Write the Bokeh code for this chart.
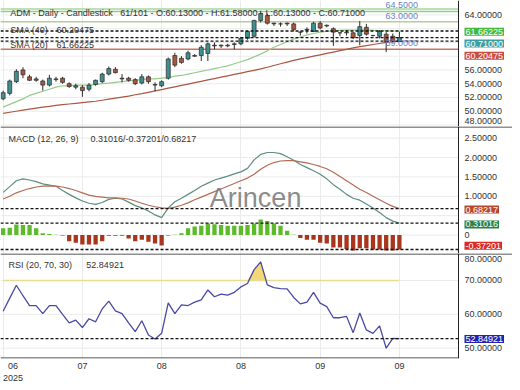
import numpy as np
from bokeh.plotting import figure
from bokeh.layouts import column
from bokeh.models import Range1d, FixedTicker, Span, Label, ColumnDataSource
from bokeh.core.properties import value
from bokeh.embed import file_html
from bokeh.resources import INLINE

# ---------------- data ----------------
opens = [51.8, 52.6, 54.3, 56.0, 55.0, 54.7, 54.4, 53.8, 54.6, 54.8,
         54.0, 53.5, 53.5, 53.2, 53.9, 54.3, 55.4, 56.1, 54.8, 54.8,
         54.6, 54.1, 55.0, 53.9, 53.7, 54.8, 58.1, 57.7, 57.6, 58.1,
         58.1, 58.4, 59.6, 59.6, 59.5, 59.7, 59.8, 60.6, 60.9, 63.2,
         63.9, 62.8, 62.7, 62.8, 62.7, 61.5, 61.8, 61.6, 62.8, 62.5,
         62.0, 61.4, 61.4, 61.4, 61.0, 62.2, 61.0, 60.9, 61.2, 60.9,
         60.13]
highs = [53.0, 54.6, 56.1, 56.4, 55.3, 55.0, 54.6, 55.3, 55.0, 55.0,
         54.2, 54.0, 53.8, 54.1, 54.6, 55.6, 56.5, 56.4, 55.4, 55.0,
         54.8, 55.4, 55.2, 54.2, 54.5, 57.8, 58.5, 58.0, 58.8, 58.3,
         59.6, 60.0, 60.0, 59.7, 59.8, 60.0, 60.8, 61.7, 63.3, 64.6,
         64.2, 62.9, 62.9, 62.9, 62.9, 61.6, 62.2, 63.0, 63.1, 62.6,
         62.2, 61.5, 61.8, 61.5, 63.1, 62.7, 61.1, 61.8, 61.5, 61.3,
         61.58]
lows = [51.6, 52.3, 54.1, 54.8, 54.4, 54.3, 53.0, 53.6, 54.3, 54.0,
        53.4, 53.2, 52.1, 52.9, 53.7, 54.1, 55.2, 55.5, 54.2, 54.3,
        53.8, 53.9, 54.0, 52.9, 53.5, 54.6, 56.4, 56.9, 57.4, 57.9,
        57.3, 57.3, 59.0, 59.2, 59.3, 59.0, 59.6, 60.4, 60.7, 62.9,
        62.6, 62.4, 62.3, 62.4, 61.6, 61.0, 61.3, 61.5, 61.9, 62.2,
        59.5, 60.9, 61.0, 60.5, 59.6, 61.0, 60.9, 60.6, 58.6, 60.0,
        60.13]
closes = [52.7, 54.4, 55.8, 55.3, 54.5, 54.5, 53.8, 54.8, 54.7, 54.2,
          53.6, 53.7, 53.0, 53.8, 54.5, 55.4, 56.2, 55.6, 54.7, 54.5,
          54.0, 55.0, 54.3, 53.8, 54.3, 57.6, 56.7, 57.1, 58.5, 58.0,
          59.3, 59.8, 59.5, 59.5, 59.6, 59.8, 60.6, 61.6, 63.2, 64.2,
          62.8, 62.7, 62.7, 62.7, 61.9, 61.5, 61.9, 62.8, 62.1, 62.4,
          61.5, 61.4, 61.5, 60.7, 62.3, 61.2, 61.0, 61.6, 60.1, 60.2,
          60.71]
sma20 = [50.6, 51.0, 51.4, 51.8, 52.3, 52.6, 52.9, 53.2, 53.5, 53.7,
         53.7, 53.8, 53.8, 53.8, 53.9, 54.0, 54.1, 54.2, 54.3, 54.4,
         54.5, 54.6, 54.7, 54.7, 54.8, 54.9, 55.1, 55.2, 55.4, 55.6,
         55.8, 56.0, 56.2, 56.4, 56.6, 56.9, 57.2, 57.5, 57.9, 58.3,
         58.8, 59.3, 59.7, 60.1, 60.5, 60.8, 61.1, 61.3, 61.5, 61.6,
         61.7, 61.75, 61.8, 61.8, 61.8, 61.8, 61.75, 61.7, 61.7, 61.68,
         61.66225]
sma40 = [49.7, 49.85, 50.0, 50.15, 50.3, 50.45, 50.6, 50.7, 50.85, 50.95,
         51.05, 51.15, 51.25, 51.35, 51.45, 51.6, 51.75, 51.9, 52.05, 52.2,
         52.4, 52.55, 52.75, 52.95, 53.15, 53.35, 53.55, 53.75, 53.95, 54.15,
         54.35, 54.55, 54.75, 54.95, 55.15, 55.35, 55.55, 55.75, 55.95, 56.15,
         56.4, 56.65, 56.9, 57.15, 57.4, 57.6, 57.8, 58.0, 58.2, 58.4,
         58.6, 58.8, 59.0, 59.2, 59.4, 59.55, 59.7, 59.85, 60.0, 60.1,
         60.20475]
macd = [1.10, 1.25, 1.40, 1.45, 1.42, 1.38, 1.32, 1.29, 1.26, 1.15,
        1.05, 0.96, 0.88, 0.82, 0.79, 0.84, 0.92, 0.95, 0.93, 0.85,
        0.76, 0.70, 0.62, 0.52, 0.45, 0.70, 0.86, 0.95, 1.05, 1.15,
        1.26, 1.34, 1.42, 1.47, 1.52, 1.58, 1.63, 1.72, 1.94, 2.08,
        2.13, 2.13, 2.10, 2.02, 1.93, 1.82, 1.74, 1.66, 1.57, 1.45,
        1.30, 1.18, 1.05, 0.95, 0.90, 0.80, 0.70, 0.58, 0.45, 0.36,
        0.31016]
signal = [0.93, 1.00, 1.09, 1.15, 1.20, 1.24, 1.26, 1.27, 1.26, 1.24,
          1.20, 1.15, 1.09, 1.03, 1.00, 0.98, 0.96, 0.96, 0.95, 0.93,
          0.88, 0.82, 0.77, 0.73, 0.70, 0.69, 0.72, 0.77, 0.83, 0.91,
          0.98, 1.05, 1.12, 1.19, 1.26, 1.33, 1.40, 1.47, 1.57, 1.70,
          1.80, 1.87, 1.91, 1.92, 1.92, 1.89, 1.86, 1.82, 1.77, 1.71,
          1.62, 1.51, 1.40, 1.29, 1.18, 1.10, 1.00, 0.91, 0.82, 0.74,
          0.68217]
hist = [0.175, 0.19, 0.27, 0.26, 0.26, 0.175, 0.05, 0.025, 0.01, -0.01,
        -0.16, -0.20, -0.24, -0.24, -0.24, -0.16, -0.02, -0.02, -0.02, -0.09,
        -0.16, -0.12, -0.175, -0.22, -0.27, -0.01, 0.01, 0.05, 0.175, 0.22,
        0.24, 0.30, 0.28, 0.26, 0.24, 0.24, 0.24, 0.26, 0.30, 0.40,
        0.36, 0.30, 0.24, 0.11, 0.01, -0.075, -0.12, -0.12, -0.20, -0.22,
        -0.32, -0.32, -0.36, -0.40, -0.34, -0.34, -0.37, -0.37, -0.40, -0.40,
        -0.37201]
rsi = [60.9, 64.8, 68.6, 65.5, 62.6, 62.6, 60.2, 62.6, 62.6, 60.0,
       57.5, 58.3, 56.1, 58.7, 57.8, 61.6, 63.9, 61.0, 60.2, 57.5,
       54.9, 58.1, 53.9, 52.7, 54.4, 63.4, 60.2, 62.8, 62.6, 63.6,
       64.3, 67.2, 65.2, 66.0, 65.7, 66.5, 68.1, 69.1, 73.2, 75.5,
       68.7, 67.9, 67.6, 67.5, 65.0, 63.1, 63.6, 66.5, 63.3, 62.3,
       59.0, 59.0, 59.4, 54.6, 60.4, 55.4, 54.4, 56.6, 50.0, 52.9,
       52.84921]
grid_x = [0, 12, 24, 36, 48, 60]
x_tick_pos = [1.5, 12, 24, 36, 48, 60]
x_tick_labels = ["06\n2025", "07", "08", "08", "09", "09"]
price_ticks = [48, 50, 52, 54, 56, 58, 60, 62, 64]
price_tick_labels = ["48.00000", "50.00000", "52.00000", "54.00000", "56.00000", "", "", "", "64.00000"]
macd_ticks = [0.0, 0.5, 1.0, 1.5, 2.0, 2.5]
macd_tick_labels = ["0", "", "1.00000", "1.50000", "2.00000", "2.50000"]
rsi_ticks = [50, 60, 70, 80]
rsi_tick_labels = ["50.00000", "60.00000", "70.00000", "80.00000"]
level_values = [64.85, 64.5, 63.0, 59.0]
level_labels = ["", "64.5000", "63.0000", "59.0000"]
level_colors = ["#a6d79c", "#8fcf86", "#b8cc98", "#c97565"]
rsi_upper = 70
NB = "\u00a0"
title_text = "ADM - Daily - Candlestick" + NB * 3 + "61/101 - O:60.13000 - H:61.58000 - L:60.13000 - C:60.71000"

idx = list(range(len(closes)))

# ---------------- styling ----------------
FONT = "Liberation Sans"
FS = "9px"
W = 512
PPU = 458 / 69.35          # pixels per bar
X0 = -0.4
AXX = 68.95                # where the right axis line sits
X1 = X0 + W / PPU
LX = AXX + 6 / PPU         # left edge of right-hand labels
GRID = "#ebebeb"
UP = "#3f8f8f"
DOWN = "#a65a3c"
INK = "#222222"

xr = Range1d(X0, X1)


def panel(h, y0, y1, ticks, labels, first=False, show_x=False):
    p = figure(x_range=xr, y_range=Range1d(y0, y1), frame_width=W, frame_height=h,
               output_backend="svg", toolbar_location=None,
               min_border_left=0, min_border_right=0, min_border_top=0, min_border_bottom=0,
               outline_line_color=None, background_fill_color="white", border_fill_color="white")
    p.yaxis.visible = False
    p.ygrid.visible = False
    xa = p.xaxis[0]
    xa.ticker = FixedTicker(ticks=x_tick_pos)
    p.xgrid.ticker = FixedTicker(ticks=grid_x)
    p.xgrid.grid_line_color = GRID
    upp = (y1 - y0) / h     # units per pixel
    if show_x:
        xa.major_label_overrides = {t: l for t, l in zip(x_tick_pos, x_tick_labels)}
        xa.major_label_text_font = FONT
        xa.major_label_text_font_size = FS
        xa.major_label_text_color = "#333333"
        xa.major_label_standoff = 2
        xa.major_tick_out = 0
        xa.major_tick_in = 0
        xa.minor_tick_out = 0
        xa.minor_tick_in = 0
        xa.axis_line_color = None
        p.segment(x0=[X0], x1=[AXX], y0=[y0 + 0.5 * upp], y1=[y0 + 0.5 * upp], line_color=INK, line_width=1)
    else:
        xa.visible = False
    # horizontal grid, stopping at the axis line
    n = len(ticks)
    p.segment(x0=[X0] * n, x1=[AXX] * n, y0=ticks, y1=ticks, line_color=GRID, line_width=1)
    # right axis line
    p.add_layout(Span(location=AXX, dimension="height", line_color=INK, line_width=1))
    # separator on top
    if not first:
        p.add_layout(Span(location=y1 - 0.5 * upp, dimension="width", line_color=INK, line_width=1))
    # right-hand tick labels (kept inside the panel)
    lo = y0 + 5.5 * upp
    hi = y1 - 5.5 * upp
    ty = [min(max(t, lo), hi) for t, l in zip(ticks, labels) if l]
    tl = [l for l in labels if l]
    p.text(x=[LX] * len(tl), y=ty, text=tl, text_font=value(FONT), text_font_size=value(FS),
           text_color="#333333", text_baseline="middle", text_align="left")
    return p


def txt(p, x, y, s, color="#333333", size=FS, bg=None):
    kw = dict(x=x, y=y, text=s, text_font=FONT, text_font_size=size, text_color=color,
              text_align="left", text_baseline="middle")
    if bg is not None:
        kw.update(background_fill_color=bg, padding=1)
    p.add_layout(Label(**kw))


def dline(p, v):
    # dashed "last value" line, stopping at the axis line
    p.segment(x0=[X0], x1=[AXX], y0=[v], y1=[v], line_color="#111111", line_dash="3 2", line_width=1.3)


# ---------------- main price panel ----------------
p1 = panel(126, 47.78, 66.1, price_ticks, price_tick_labels, first=True)
for v, lab, col in zip(level_values, level_labels, level_colors):
    p1.segment(x0=[X0], x1=[AXX], y0=[v], y1=[v], line_color=col, line_width=1.5)
    if lab:
        txt(p1, 57.9, v + 0.9, lab, color="#6f7fc6")

p1.line(idx, sma20, line_color="#98cb8b", line_width=1.2)
p1.line(idx, sma40, line_color="#ab5741", line_width=1.2)

o = np.array(opens)
c = np.array(closes)
src = ColumnDataSource(dict(
    x=idx, h=highs, l=lows,
    top=np.maximum(o, c), bot=np.minimum(o, c),
    col=[UP if cc >= oo else DOWN for oo, cc in zip(opens, closes)]))
p1.segment(x0="x", y0="h", x1="x", y1="l", source=src, line_color="#2a2a2a", line_width=1)
p1.vbar(x="x", width=0.6, top="top", bottom="bot", fill_color="col", line_color="#2a2a2a",
        line_width=0.7, source=src)

dline(p1, sma20[-1])
dline(p1, closes[-1])
dline(p1, sma40[-1])

txt(p1, 1.09, 64.25, title_text)
txt(p1, 1.09, 61.88, "SMA (40)")
txt(p1, 8.08, 61.88, "%.5f" % sma40[-1])
txt(p1, 1.09, 59.63, "SMA (20)")
txt(p1, 8.08, 59.63, "%.5f" % sma20[-1])

txt(p1, LX, 61.56, "%.5f" % sma20[-1], color="white", bg="#43b93b")
txt(p1, LX, 59.84, "%.5f" % closes[-1], color="white", bg="#3d9ea2")
txt(p1, LX, 58.08, "%.5f" % sma40[-1], color="white", bg="#cc4c3c")

# ---------------- MACD panel ----------------
p2 = panel(127, -0.475, 2.8, macd_ticks, macd_tick_labels)
p2.vbar(x=idx, top=hist, bottom=0, width=0.65,
        fill_color=["#5cba2b" if h >= 0 else "#a8361d" for h in hist], line_color=None)
p2.line(idx, macd, line_color="#5d8e80", line_width=1.2)
p2.line(idx, signal, line_color="#b36c54", line_width=1.2)
dline(p2, signal[-1])
dline(p2, macd[-1])
dline(p2, hist[-1])

p2.add_layout(Label(x=31.3, y=0.96, text="Arincen", text_font=FONT, text_font_size="27px",
                    text_color="#7c7c7c", text_alpha=0.9, text_baseline="alphabetic"))
txt(p2, 0.82, 2.49, "MACD (12, 26, 9)")
txt(p2, 13.24, 2.49, "%.5f/%.5f/%.5f" % (macd[-1], hist[-1], signal[-1]))
txt(p2, LX, 0.6575, "%.5f" % signal[-1], color="white", bg="#b9472b")
txt(p2, LX, 0.275, "%.5f" % macd[-1], color="white", bg="#2a8048")
txt(p2, LX, -0.275, "%.5f" % hist[-1], color="white", bg="#dc2a24")

# ---------------- RSI panel ----------------
p3 = panel(105, 46.96, 77.97, rsi_ticks, rsi_tick_labels, show_x=True)
p3.varea(x=idx, y1=[rsi_upper] * len(idx), y2=np.maximum(np.array(rsi), rsi_upper),
         fill_color="#f2d36a", fill_alpha=0.9)
p3.line(idx, [rsi_upper] * len(idx), line_color="#e8dc92", line_width=1.5)
p3.line(idx, rsi, line_color="#4a4aa4", line_width=1.3)
dline(p3, rsi[-1])
txt(p3, 0.82, 74.49, "RSI (20, 70, 30)")
txt(p3, 12.6, 74.49, "%.5f" % rsi[-1])
txt(p3, LX, 52.75, "%.5f" % rsi[-1], color="white", bg="#2222b0")

layout = column(p1, p2, p3, spacing=0)
open("out.html", "w").write(file_html(layout, INLINE))
